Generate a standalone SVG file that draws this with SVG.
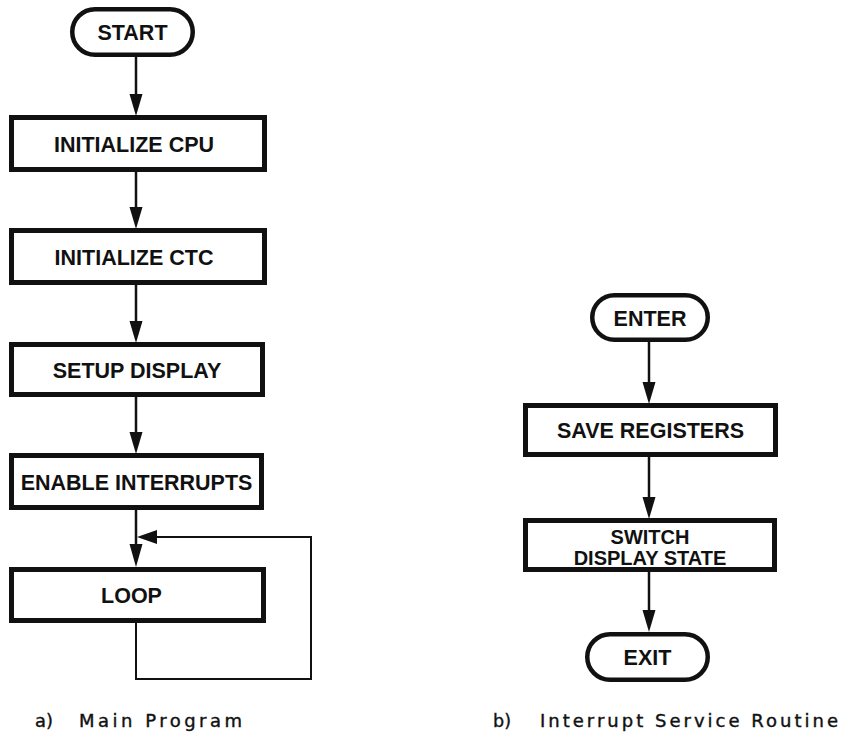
<svg xmlns="http://www.w3.org/2000/svg" width="852" height="738" viewBox="0 0 852 738">
<style>
.box{fill:#fff;stroke:#111;stroke-width:5}
.term{fill:#fff;stroke:#111;stroke-width:4.5}
.lbl{font-family:"Liberation Sans",Arial,sans-serif;font-weight:bold;font-size:21.5px;fill:#111;text-anchor:middle}
.lbl2{font-family:"Liberation Sans",Arial,sans-serif;font-weight:bold;font-size:20px;fill:#111;text-anchor:middle}
.cap{font-family:"DejaVu Sans",sans-serif;font-size:18px;fill:#111;stroke:#111;stroke-width:0.4}
.ln{fill:none;stroke:#111;stroke-width:2.5}
.lp{fill:none;stroke:#111;stroke-width:2}
.ah{fill:#111;stroke:none}
</style>
<rect width="852" height="738" fill="#fff"/>
<g id="connectors">
  <line class="ln" x1="136" y1="57" x2="136" y2="98"/>
  <polygon class="ah" points="129.5,94 142.5,94 136,116"/>
  <line class="ln" x1="136" y1="172" x2="136" y2="211"/>
  <polygon class="ah" points="129.5,207 142.5,207 136,229"/>
  <line class="ln" x1="136" y1="285" x2="136" y2="325"/>
  <polygon class="ah" points="129.5,321 142.5,321 136,343"/>
  <line class="ln" x1="136" y1="397" x2="136" y2="436"/>
  <polygon class="ah" points="129.5,432 142.5,432 136,454"/>
  <line class="ln" x1="136" y1="510" x2="136" y2="548"/>
  <polygon class="ah" points="129.5,544 142.5,544 136,567"/>
  <polyline class="lp" points="136,623 136,679 311,679 311,537 152,537"/>
  <polygon class="ah" points="157,530 157,544 137,537"/>
  <line class="ln" x1="649" y1="342" x2="649" y2="386"/>
  <polygon class="ah" points="642.5,382 655.5,382 649,404"/>
  <line class="ln" x1="649" y1="457" x2="649" y2="501"/>
  <polygon class="ah" points="642.5,497 655.5,497 649,519"/>
  <line class="ln" x1="649" y1="572" x2="649" y2="614"/>
  <polygon class="ah" points="642.5,610 655.5,610 649,632"/>
</g>
<g id="start">
  <rect class="term" x="72.25" y="9.25" width="120.5" height="45.5" rx="22.75"/>
  <text class="lbl" x="132.5" y="40">START</text>
</g>
<g id="init-cpu">
  <rect class="box" x="11.5" y="117.5" width="253" height="52"/>
  <text class="lbl" x="134" y="151.5">INITIALIZE CPU</text>
</g>
<g id="init-ctc">
  <rect class="box" x="11.5" y="230.5" width="253" height="52"/>
  <text class="lbl" x="134" y="264.5">INITIALIZE CTC</text>
</g>
<g id="setup-display">
  <rect class="box" x="11.5" y="344.5" width="251" height="50"/>
  <text class="lbl" x="137" y="377.5">SETUP DISPLAY</text>
</g>
<g id="enable-interrupts">
  <rect class="box" x="11.5" y="455.5" width="250" height="52"/>
  <text class="lbl" x="136.5" y="489.5">ENABLE INTERRUPTS</text>
</g>
<g id="loop">
  <rect class="box" x="11.5" y="569.5" width="252" height="51"/>
  <text class="lbl" x="131.5" y="603">LOOP</text>
</g>
<g id="enter">
  <rect class="term" x="592.25" y="295.25" width="115.5" height="44.5" rx="22.25"/>
  <text class="lbl" x="650" y="325.5">ENTER</text>
</g>
<g id="save-registers">
  <rect class="box" x="525.5" y="405.5" width="250" height="49"/>
  <text class="lbl" x="650.5" y="438">SAVE REGISTERS</text>
</g>
<g id="switch-display-state">
  <rect class="box" x="525.5" y="520.5" width="249" height="49"/>
  <text class="lbl2" x="650" y="543.5">SWITCH</text>
  <text class="lbl2" x="650" y="565">DISPLAY STATE</text>
</g>
<g id="exit">
  <rect class="term" x="587.25" y="634.25" width="120.5" height="45.5" rx="22.75"/>
  <text class="lbl" x="647.5" y="665">EXIT</text>
</g>
<g id="captions">
  <text class="cap" x="35" y="727" textLength="18" lengthAdjust="spacingAndGlyphs">a)</text>
  <text class="cap" x="79" y="727" textLength="163" lengthAdjust="spacing">Main Program</text>
  <text class="cap" x="493" y="727" textLength="18" lengthAdjust="spacingAndGlyphs">b)</text>
  <text class="cap" x="540" y="727" textLength="298" lengthAdjust="spacing">Interrupt Service Routine</text>
</g>
</svg>
